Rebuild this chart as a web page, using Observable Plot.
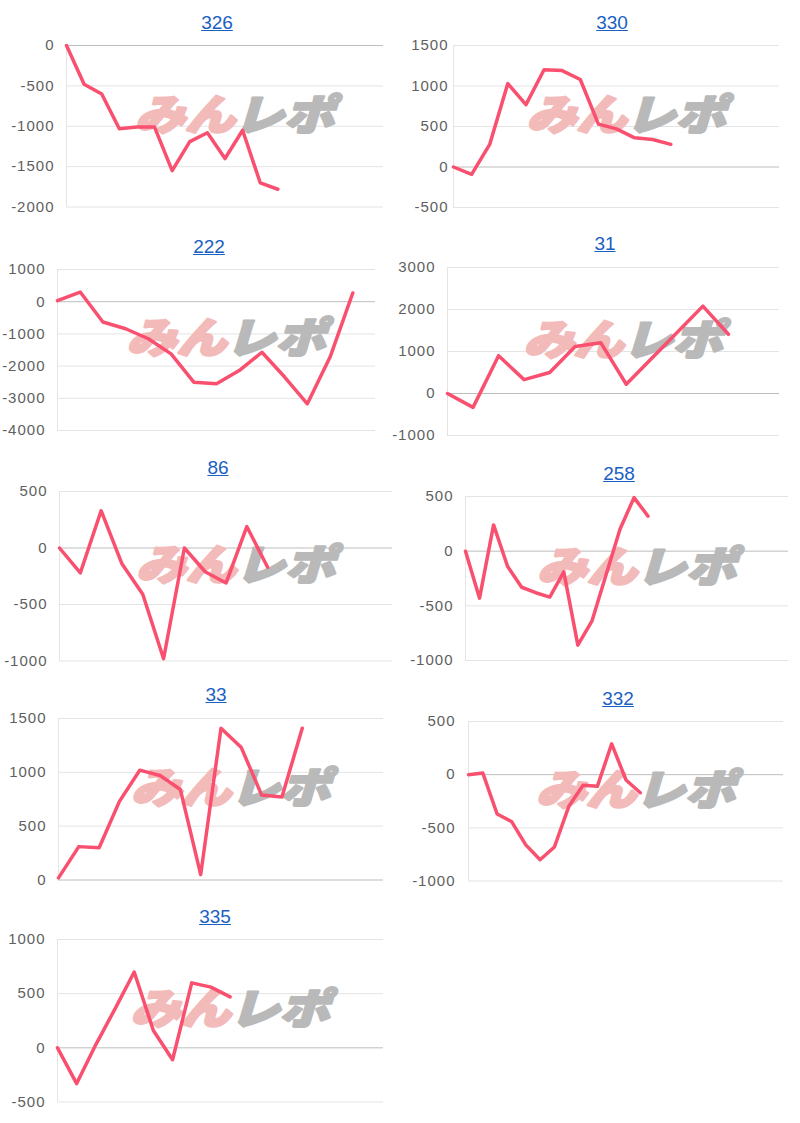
<!DOCTYPE html>
<html><head><meta charset="utf-8">
<script src="https://cdn.jsdelivr.net/npm/d3@7"></script>
<script src="https://cdn.jsdelivr.net/npm/@observablehq/plot@0.6"></script>
<style>
body{margin:0;background:#fff;font-family:"Liberation Sans",Arial,sans-serif;}
#root{position:relative;width:800px;height:1123px;overflow:hidden;}
.cell{position:absolute;}
.ttl{position:absolute;transform:translate(-50%,-50%);color:#1a5fc2;font-size:19px;text-decoration:underline;white-space:nowrap;font-family:"Liberation Sans",Arial,sans-serif;}
</style></head><body><div id="root"></div>
<script>
// ---- data ----
const titles = ["326","330","222","31","86","258","33","332","335"];
const v326 = [0, -480, -600, -1030, -1010, -1010, -1550, -1190, -1080, -1400, -1050, -1700, -1780];
const v330 = [0, -90, 280, 1030, 770, 1200, 1190, 1080, 530, 470, 360, 340, 280];
const v222 = [30, 300, -630, -840, -1150, -1620, -2500, -2550, -2140, -1570, -2340, -3170, -1720, 270];
const v31  = [0, -330, 900, 330, 500, 1120, 1210, 220, 840, 1460, 2080, 1410];
const v86  = [0, -220, 330, -140, -410, -980, 0, -210, -310, 190, -170];
const v258 = [0, -430, 240, -140, -330, -380, -420, -190, -860, -640, -220, 200, 490, 320];
const v33  = [20, 310, 300, 730, 1020, 970, 840, 50, 1410, 1230, 790, 770, 1410];
const v332 = [0, 15, -370, -440, -660, -800, -680, -300, -100, -110, 290, -50, -170];
const v335 = [0, -330, 30, 360, 700, 160, -110, 600, 560, 470];
const series = [v326, v330, v222, v31, v86, v258, v33, v332, v335];
const slotCounts = [19, 19, 15, 14, 17, 24, 17, 23, 18];
const yMins = [-2000, -500, -4000, -1000, -1000, -1000, 0, -1000, -500];
const yMaxs = [0, 1500, 1000, 3000, 500, 500, 1500, 500, 1000];
const ySteps = [500, 500, 1000, 1000, 500, 500, 500, 500, 500];
const wmLeft = "みん", wmRight = "レポ";

// ---- layout (cellX, plotLeft, plotRight, plotTop, plotBottom, titleX, titleY, tickGap) ----
const layout = [
  [0, 66, 383, 44.5, 206, 217, 22.5, 12],
  [400, 453, 779, 45, 207, 612, 23, 5],
  [0, 57, 375, 269, 430, 209, 247, 12],
  [400, 447, 779, 267, 435, 605, 243.5, 12],
  [0, 59, 392, 490.5, 660, 218, 468, 12],
  [400, 465, 788, 496, 660, 619, 473.5, 12],
  [0, 58, 383, 717.5, 879, 216, 695, 12],
  [400, 468, 783, 720.5, 880, 618, 699, 13],
  [0, 57, 383, 939, 1101.5, 215, 916.5, 12]
];

const root = document.getElementById("root");
const lineColor = "#f9506f";
const wmFont = '"Noto Sans CJK JP", "Noto Sans CJK SC", sans-serif';

series.forEach((vals, k) => {
  const [cx, pl, pr, pt, pb, tx, ty, gap] = layout[k];
  const mt = 10, mb = 10;
  const h = (pb - pt) + mt + mb;
  const ticks = d3.range(yMins[k], yMaxs[k] + 1, ySteps[k]);
  const data = vals.map((v, i) => ({i, v}));
  const chart = Plot.plot({
    width: 400,
    height: h,
    marginLeft: pl - cx,
    marginRight: cx + 400 - pr,
    marginTop: mt,
    marginBottom: mb,
    style: {fontFamily: '"Liberation Sans", Arial, sans-serif', fontSize: "15px", color: "#5f5f5f", background: "transparent", overflow: "visible"},
    x: {domain: [0, slotCounts[k] - 1], axis: null},
    y: {domain: [yMins[k], yMaxs[k]], ticks, tickFormat: d => String(d), tickSize: 0, tickPadding: gap, label: null},
    marks: [
      Plot.gridY(ticks, {stroke: d => d === 0 ? "#bdbdbd" : "#e4e4e4", strokeOpacity: 1}),
      Plot.ruleX([0], {stroke: "#e4e4e4"}),
      Plot.text([wmLeft], {text: d => d, frameAnchor: "middle", dx: 10, dy: -10, textAnchor: "end", fill: "#f3baba", stroke: "#f3baba", strokeWidth: 2.5, fontSize: 42, fontWeight: 900, fontStyle: "italic", fontFamily: wmFont}),
      Plot.text([wmRight], {text: d => d, frameAnchor: "middle", dx: 9, dy: -10, textAnchor: "start", fill: "#b9b9b9", stroke: "#b9b9b9", strokeWidth: 2.5, fontSize: 42, fontWeight: 900, fontStyle: "italic", fontFamily: wmFont}),
      Plot.lineY(data, {x: "i", y: "v", stroke: lineColor, strokeWidth: 3.5, strokeLinejoin: "round", strokeLinecap: "round"})
    ]
  });
  chart.querySelectorAll("text").forEach(t => {
    if (t.textContent === wmLeft || t.textContent === wmRight) {
      t.setAttribute("textLength", "100");
      t.setAttribute("lengthAdjust", "spacingAndGlyphs");
    } else t.style.letterSpacing = "1px";
  });
  const cell = document.createElement("div");
  cell.className = "cell";
  cell.style.left = cx + "px";
  cell.style.top = (pt - mt) + "px";
  cell.appendChild(chart);
  root.appendChild(cell);
  const a = document.createElement("a");
  a.className = "ttl";
  a.href = "#";
  a.textContent = titles[k];
  a.style.left = tx + "px";
  a.style.top = ty + "px";
  root.appendChild(a);
});
</script>
</body></html>
